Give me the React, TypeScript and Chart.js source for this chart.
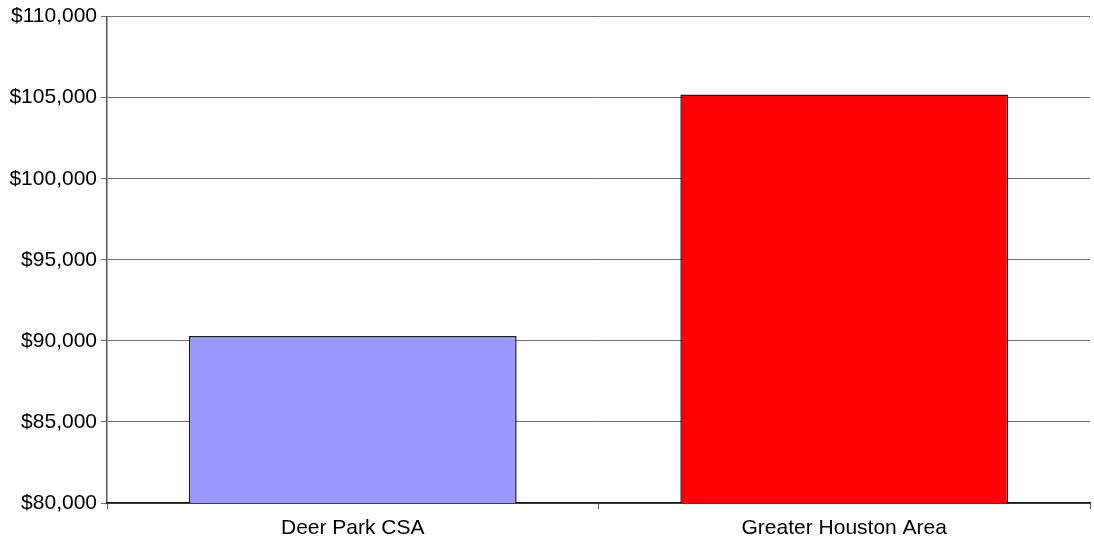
import React, { useEffect, useRef } from "react";
import { Chart, registerables } from "chart.js";

Chart.register(...registerables);

const categories = ["Deer Park CSA", "Greater Houston Area"];
const values = [90300, 105200];
const barColors = ["#9999FF", "#FF0000"];
const yMin = 80000;
const yMax = 110000;
const yStep = 5000;

export default function App() {
  const ref = useRef<HTMLCanvasElement | null>(null);

  useEffect(() => {
    document.body.style.margin = "0";
    const canvas = ref.current;
    if (!canvas) return;
    const chart = new Chart(canvas, {
      type: "bar",
      data: {
        labels: categories,
        datasets: [
          {
            data: values,
            backgroundColor: barColors,
            borderColor: "#1a1a1a",
            borderWidth: 1.5,
            barPercentage: 0.667,
            categoryPercentage: 1,
          },
        ],
      },
      options: {
        animation: false,
        responsive: false,
        maintainAspectRatio: false,
        layout: { padding: { top: 16, right: 4, left: 0, bottom: 0 } },
        plugins: {
          legend: { display: false },
          tooltip: { enabled: false },
        },
        scales: {
          y: {
            min: yMin,
            max: yMax,
            ticks: {
              stepSize: yStep,
              padding: 4,
              color: "#000000",
              font: { family: "'Liberation Sans', Arial, sans-serif", size: 21 },
              callback: (v: any) => "$" + Number(v).toLocaleString("en-US"),
            },
            grid: {
              color: "#6e6e6e",
              lineWidth: 1,
              tickLength: 6,
              drawTicks: true,
            },
            border: { color: "#555555", width: 1.5 },
            afterFit: (scale: any) => {
              scale.width = 107;
            },
          },
          x: {
            ticks: {
              padding: 7,
              color: "#000000",
              font: { family: "'Liberation Sans', Arial, sans-serif", size: 21 },
            },
            grid: {
              drawOnChartArea: false,
              drawTicks: true,
              tickLength: 6,
              color: "#555555",
            },
            border: { color: "#111111", width: 1.5 },
            afterFit: (scale: any) => {
              scale.height = 41;
            },
          },
        },
      },
    });
    return () => chart.destroy();
  }, []);

  return (
    <div style={{ position: "absolute", left: 0, top: 0, width: 1094, height: 544, background: "#fff" }}>
      <canvas ref={ref} width={1094} height={544} style={{ display: "block", width: 1094, height: 544 }} />
    </div>
  );
}
